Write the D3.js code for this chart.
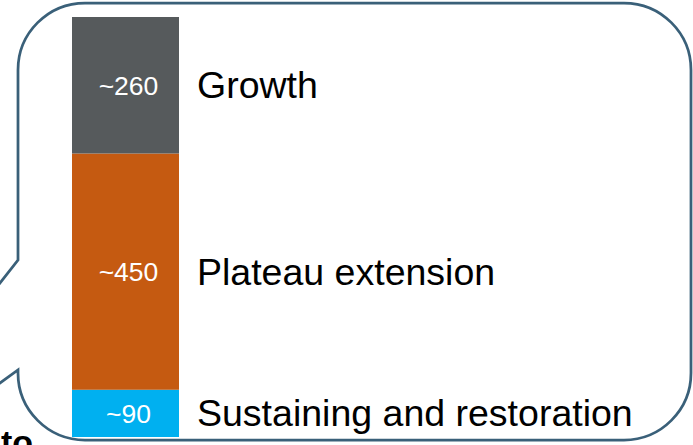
<!DOCTYPE html>
<html>
<head>
<meta charset="utf-8">
<script src="https://cdn.jsdelivr.net/npm/d3@7"></script>
<style>
  html, body { margin: 0; padding: 0; background: #ffffff; }
  svg { display: block; }
</style>
</head>
<body>
<div id="chart"></div>
<script>
// Stacked composition, bottom segment first
const segments    = ["Sustaining and restoration", "Plateau extension", "Growth"];
const values      = [90, 450, 260];
const valueLabels = ["~90", "~450", "~260"];
const segColors   = ["#00b0f0", "#c55a11", "#565a5c"];

const W = 693, H = 445;
const svg = d3.select("#chart").append("svg")
  .attr("width", W).attr("height", H)
  .style("font-family", "'Liberation Sans', Arial, sans-serif");

// Callout outline: rounded box with a pointer leaving on the left
const bx0 = 18, bx1 = 691, by0 = 3, by1 = 440, r = 67;
const p = d3.path();
p.moveTo(bx0 + r, by0);
p.lineTo(bx1 - r, by0);
p.arcTo(bx1, by0, bx1, by0 + r, r);
p.lineTo(bx1, by1 - r);
p.arcTo(bx1, by1, bx1 - r, by1, r);
p.lineTo(bx0 + r, by1);
p.arcTo(bx0, by1, bx0, by1 - r, r);
p.lineTo(bx0, 370);
p.lineTo(-178, 511);
p.lineTo(bx0, 260);
p.lineTo(bx0, by0 + r);
p.arcTo(bx0, by0, bx0 + r, by0, r);
p.closePath();

svg.append("path")
  .attr("d", p.toString())
  .attr("fill", "#ffffff")
  .attr("stroke", "#3a6079")
  .attr("stroke-width", 2.75)
  .attr("stroke-linejoin", "miter");

// Stack the single bar
const row = {};
segments.forEach((s, i) => { row[s] = values[i]; });
const stacked = d3.stack().keys(segments)([row]);
const total = d3.sum(values);

const x = d3.scaleBand().domain(["total"]).range([72, 179]).padding(0);
const y = d3.scaleLinear().domain([0, total]).range([437, 17]);

const seg = svg.append("g").selectAll("g")
  .data(stacked)
  .join("g");

seg.append("rect")
  .attr("x", x("total"))
  .attr("width", x.bandwidth())
  .attr("y", d => y(d[0][1]))
  .attr("height", d => y(d[0][0]) - y(d[0][1]))
  .attr("fill", (d, i) => segColors[i]);

// Value inside each segment
seg.append("text")
  .attr("x", x("total") + x.bandwidth() / 2 + 3)
  .attr("y", d => (y(d[0][0]) + y(d[0][1])) / 2 + 9.5)
  .attr("text-anchor", "middle")
  .attr("fill", "#ffffff")
  .attr("font-size", "26.5px")
  .text((d, i) => valueLabels[i]);

// Segment name to the right
seg.append("text")
  .attr("x", 197)
  .attr("y", d => (y(d[0][0]) + y(d[0][1])) / 2 + 13)
  .attr("fill", "#000000")
  .attr("font-size", "37.5px")
  .text(d => d.key);

// Trailing slide text cut by the frame
svg.append("text")
  .attr("x", 1)
  .attr("y", 454)
  .attr("fill", "#000000")
  .attr("font-size", "34px")
  .attr("font-weight", "bold")
  .text("to");
</script>
</body>
</html>
